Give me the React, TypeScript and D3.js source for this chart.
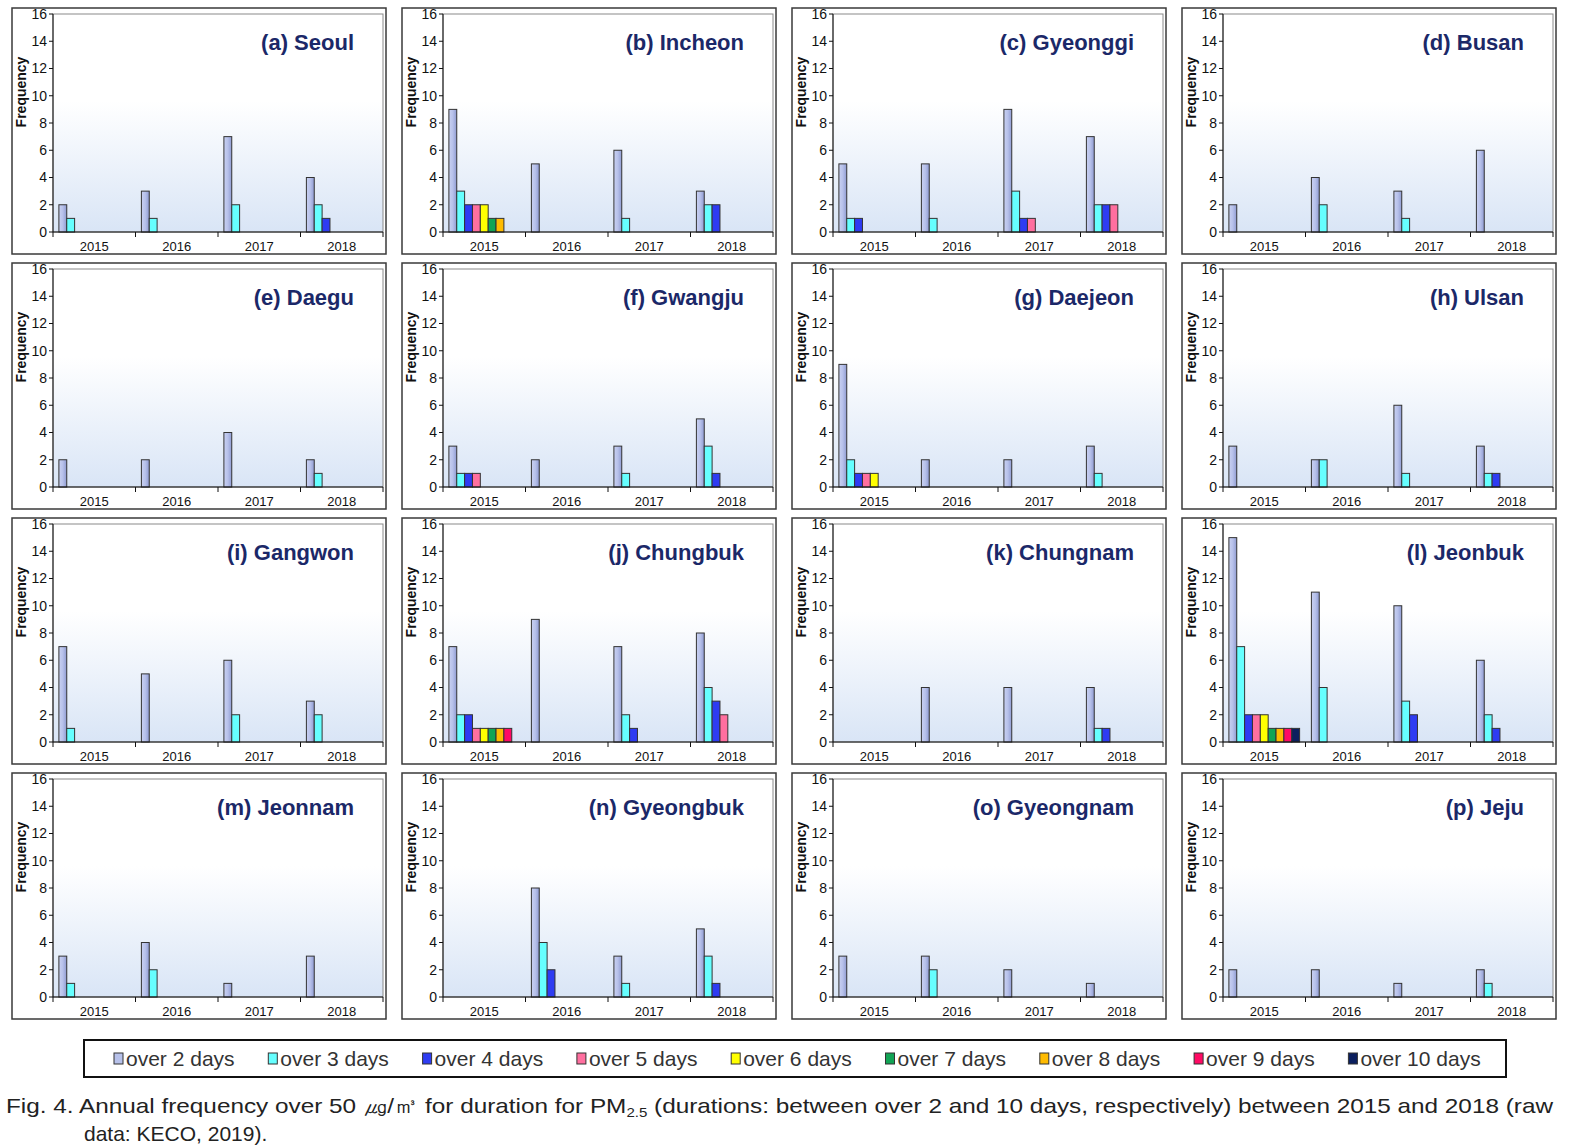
import React from 'react'
import * as d3 from 'd3'

const years = ['2015', '2016', '2017', '2018']
const seriesNames = [
  'over 2 days',
  'over 3 days',
  'over 4 days',
  'over 5 days',
  'over 6 days',
  'over 7 days',
  'over 8 days',
  'over 9 days',
  'over 10 days'
]
const seriesColors = [
  'url(#bar0)',
  '#66ffff',
  '#2e3cf2',
  '#ff6f9f',
  '#ffff00',
  '#12a455',
  '#ffbb00',
  '#ff0a64',
  '#0b1f5e'
]
const legendColors = ['#b7c1ea', '#66ffff', '#2e3cf2', '#ff6f9f', '#ffff00', '#12a455', '#ffbb00', '#ff0a64', '#0b1f5e']
const yTicks = [0, 2, 4, 6, 8, 10, 12, 14, 16]

// values per year, in series order (over 2 days, over 3 days, ...)
const seoul = [[2, 1], [3, 1], [7, 2], [4, 2, 1]]
const incheon = [[9, 3, 2, 2, 2, 1, 1], [5], [6, 1], [3, 2, 2]]
const gyeonggi = [[5, 1, 1], [5, 1], [9, 3, 1, 1], [7, 2, 2, 2]]
const busan = [[2], [4, 2], [3, 1], [6]]
const daegu = [[2], [2], [4], [2, 1]]
const gwangju = [[3, 1, 1, 1], [2], [3, 1], [5, 3, 1]]
const daejeon = [[9, 2, 1, 1, 1], [2], [2], [3, 1]]
const ulsan = [[3], [2, 2], [6, 1], [3, 1, 1]]
const gangwon = [[7, 1], [5], [6, 2], [3, 2]]
const chungbuk = [[7, 2, 2, 1, 1, 1, 1, 1], [9], [7, 2, 1], [8, 4, 3, 2]]
const chungnam = [[0], [4], [4], [4, 1, 1]]
const jeonbuk = [[15, 7, 2, 2, 2, 1, 1, 1, 1], [11, 4], [10, 3, 2], [6, 2, 1]]
const jeonnam = [[3, 1], [4, 2], [1], [3]]
const gyeongbuk = [[0], [8, 4, 2], [3, 1], [5, 3, 1]]
const gyeongnam = [[3], [3, 2], [2], [1]]
const jeju = [[2], [2], [1], [2, 1]]

const panels = [
  { title: '(a) Seoul', values: seoul },
  { title: '(b) Incheon', values: incheon },
  { title: '(c) Gyeonggi', values: gyeonggi },
  { title: '(d) Busan', values: busan },
  { title: '(e) Daegu', values: daegu },
  { title: '(f) Gwangju', values: gwangju },
  { title: '(g) Daejeon', values: daejeon },
  { title: '(h) Ulsan', values: ulsan },
  { title: '(i) Gangwon', values: gangwon },
  { title: '(j) Chungbuk', values: chungbuk },
  { title: '(k) Chungnam', values: chungnam },
  { title: '(l) Jeonbuk', values: jeonbuk },
  { title: '(m) Jeonnam', values: jeonnam },
  { title: '(n) Gyeongbuk', values: gyeongbuk },
  { title: '(o) Gyeongnam', values: gyeongnam },
  { title: '(p) Jeju', values: jeju }
]

const W = 1581
const H = 1148
const panelW = 374
const panelH = 246
const font = 'Arial, "Liberation Sans", Helvetica, sans-serif'

function Panel({ title, values, left, top }: { title: string; values: number[][]; left: number; top: number }) {
  const plotL = 41
  const plotR = 371
  const plotT = 6
  const plotB = 224
  const x = d3.scaleBand().domain(years).range([plotL, plotR])
  const xs = d3.scaleBand().domain(seriesNames).range([0, x.bandwidth()]).paddingOuter(0.75)
  const y = d3.scaleLinear().domain([0, 16]).range([plotB, plotT])

  return (
    <g transform={`translate(${left},${top})`}>
      <rect x={0} y={0} width={panelW} height={panelH} fill="#fff" stroke="#3a3a3a" strokeWidth={1.5} />
      <rect x={plotL} y={plotT} width={plotR - plotL} height={plotB - plotT} fill="url(#plotbg)" stroke="#8a8a8a" strokeWidth={1} />
      {values.map((vals, yi) =>
        vals.map((v, si) =>
          v > 0 ? (
            <rect
              key={`${yi}-${si}`}
              x={(x(years[yi]) as number) + (xs(seriesNames[si]) as number)}
              y={y(v)}
              width={xs.bandwidth()}
              height={plotB - y(v)}
              fill={seriesColors[si]}
              stroke="#333"
              strokeWidth={1}
            />
          ) : null
        )
      )}
      <line x1={plotL} x2={plotL} y1={plotT} y2={plotB} stroke="#111" />
      <line x1={plotL} x2={plotR} y1={plotB} y2={plotB} stroke="#111" />
      {yTicks.map(t => (
        <g key={t}>
          <line x1={plotL - 4} x2={plotL} y1={y(t)} y2={y(t)} stroke="#111" />
          <text x={plotL - 6} y={y(t)} dy="0.35em" textAnchor="end" fontSize={14} fontFamily={font} fill="#111">
            {t}
          </text>
        </g>
      ))}
      {years.map(yr => (
        <line key={yr} x1={x(yr)} x2={x(yr)} y1={plotB} y2={plotB + 5} stroke="#111" />
      ))}
      <line x1={plotR} x2={plotR} y1={plotB} y2={plotB + 5} stroke="#111" />
      {years.map(yr => (
        <text
          key={yr}
          x={(x(yr) as number) + x.bandwidth() / 2}
          y={plotB + 19}
          textAnchor="middle"
          fontSize={13}
          fontFamily={font}
          fill="#111"
        >
          {yr}
        </text>
      ))}
      <text
        transform={`translate(14,84) rotate(-90)`}
        textAnchor="middle"
        fontSize={14}
        fontWeight="bold"
        fontFamily={font}
        fill="#111"
      >
        Frequency
      </text>
      <text x={342} y={42} textAnchor="end" fontSize={22} fontWeight="bold" fontFamily={font} fill="#1b2868">
        {title}
      </text>
    </g>
  )
}

export default function App() {
  const colX = d3.scaleBand().domain(['0', '1', '2', '3']).range([12, 12 + 4 * 390])
  const rowY = d3.scaleBand().domain(['0', '1', '2', '3']).range([8, 8 + 4 * 255])
  const legendX = d3.scaleBand().domain(seriesNames).range([114, 114 + 9 * 154.3])

  return (
    <svg width={W} height={H} style={{ position: 'absolute', left: 0, top: 0, background: '#fff' }}>
      <defs>
        <linearGradient id="plotbg" x1="0" y1="0" x2="0" y2="1">
          <stop offset="0" stopColor="#ffffff" />
          <stop offset="0.4" stopColor="#ffffff" />
          <stop offset="1" stopColor="#d9e5f6" />
        </linearGradient>
        <linearGradient id="bar0" x1="0" y1="0" x2="1" y2="0">
          <stop offset="0" stopColor="#c9d1f2" />
          <stop offset="0.5" stopColor="#b7c1ea" />
          <stop offset="1" stopColor="#8f9bd2" />
        </linearGradient>
      </defs>
      {panels.map((p, i) => (
        <Panel
          key={p.title}
          title={p.title}
          values={p.values}
          left={colX(String(i % 4)) as number}
          top={rowY(String(Math.floor(i / 4))) as number}
        />
      ))}
      <rect x={84} y={1040} width={1422} height={37} fill="#fff" stroke="#111" strokeWidth={2} />
      {seriesNames.map((s, i) => (
        <g key={s}>
          <rect x={legendX(s)} y={1053} width={9} height={11} fill={legendColors[i]} stroke="#333" strokeWidth={1} />
          <text x={(legendX(s) as number) + 12} y={1066} fontSize={21} fontFamily={font} fill="#333">
            {s}
          </text>
        </g>
      ))}
      <text x={6} y={1113} fontSize={21} fontFamily={font} fill="#222" textLength={1547} lengthAdjust="spacingAndGlyphs">
        Fig. 4. Annual frequency over 50 ㎍/㎥ for duration for PM
        <tspan fontSize={13} dy={4}>2.5</tspan>
        <tspan dy={-4}> (durations: between over 2 and 10 days, respectively) between 2015 and 2018 (raw</tspan>
      </text>
      <text x={84} y={1141} fontSize={21} fontFamily={font} fill="#222">
        data: KECO, 2019).
      </text>
    </svg>
  )
}
